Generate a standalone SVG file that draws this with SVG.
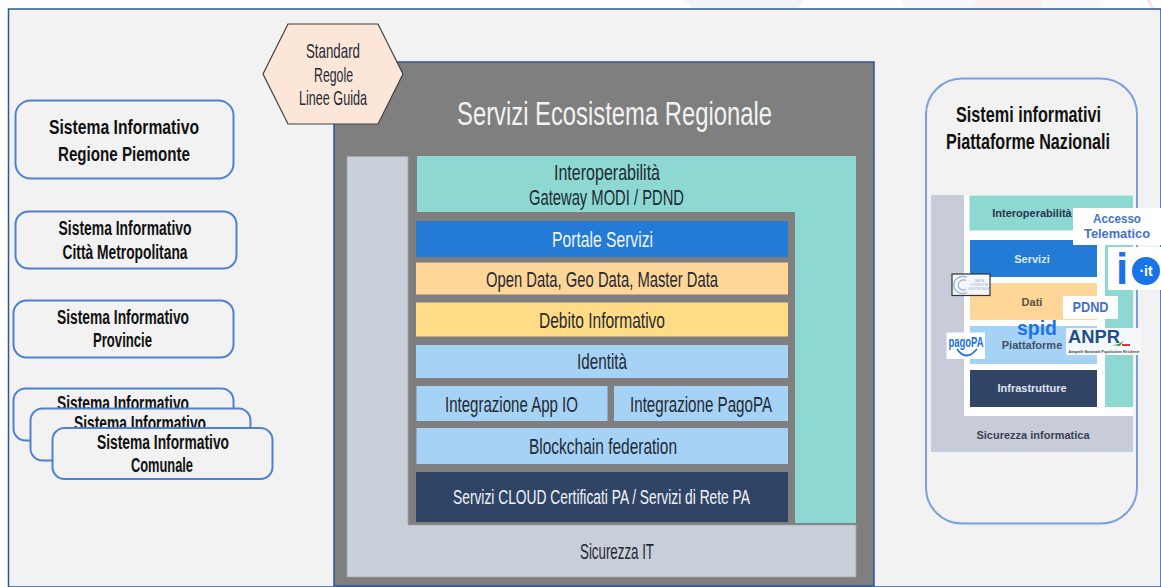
<svg xmlns="http://www.w3.org/2000/svg" width="1161" height="587" viewBox="0 0 1161 587">
<style>
text{font-family:"Liberation Sans",Arial,sans-serif;text-anchor:middle}
.d{fill:#1f2a33;font-size:22px}
.h{fill:#1f2a33;font-size:21px}
.b{fill:#111;font-size:20px;font-weight:bold}
.w{fill:#f2f4f8;font-size:22px}
.box{fill:#f2f2f2;stroke:#4f81d0;stroke-width:2}
.s{fill:#2a3550;font-size:11px;font-weight:bold}
.n{fill:#4472c4;font-weight:bold;font-size:13px}
</style>
<rect width="1161" height="587" fill="#fff"/>
<path d="M683 0L692 8H798L805 0Z" fill="#eef4f8"/>
<path d="M900 0L905 8H1100L1107 0Z" fill="#f8f8f8"/>
<path d="M977 0L970 8H1040L1043 0Z" fill="#fcefef"/>
<path d="M1147 0L1151 8H1154L1150 0Z" fill="#f8e4e4"/>
<path d="M1161 9H8.5V587H1161Z" fill="#f2f2f2" stroke="#2f5597" stroke-width="1.5"/>
<g id="left-systems">
<g id="si-regione"><rect class="box" x="15.5" y="100.5" width="218" height="78" rx="15"/>
<text class="b" x="124" y="134" font-size="21" style="font-size:21px" textLength="150" lengthAdjust="spacingAndGlyphs">Sistema Informativo</text>
<text class="b" x="124" y="161" style="font-size:21px" textLength="132" lengthAdjust="spacingAndGlyphs">Regione Piemonte</text></g>
<g id="si-citta"><rect class="box" x="15.5" y="211.5" width="221" height="57" rx="13"/>
<text class="b" x="125" y="235" textLength="133" lengthAdjust="spacingAndGlyphs">Sistema Informativo</text>
<text class="b" x="125" y="259" textLength="125" lengthAdjust="spacingAndGlyphs">Città Metropolitana</text></g>
<g id="si-province"><rect class="box" x="13.5" y="300.5" width="220" height="57" rx="13"/>
<text class="b" x="123" y="324" textLength="132" lengthAdjust="spacingAndGlyphs">Sistema Informativo</text>
<text class="b" x="122.500" y="347" textLength="59" lengthAdjust="spacingAndGlyphs">Provincie</text></g>
<g id="si-comunale-3"><rect class="box" x="13.5" y="388.5" width="220" height="52" rx="12"/>
<text class="b" x="123" y="410" textLength="132" lengthAdjust="spacingAndGlyphs">Sistema Informativo</text></g>
<g id="si-comunale-2"><rect class="box" x="30.5" y="408.5" width="220" height="52" rx="12"/>
<text class="b" x="140" y="430" textLength="132" lengthAdjust="spacingAndGlyphs">Sistema Informativo</text></g>
<g id="si-comunale-1"><rect class="box" x="52.5" y="428" width="220" height="51" rx="12"/>
<text class="b" x="163" y="449" textLength="132" lengthAdjust="spacingAndGlyphs">Sistema Informativo</text>
<text class="b" x="162" y="472" textLength="62" lengthAdjust="spacingAndGlyphs">Comunale</text></g>
</g>
<g id="ecosistema">
<rect x="334" y="62" width="540" height="524" fill="#7f7f7f" stroke="#2f5597" stroke-width="1.5"/>
<text x="614.500" y="125" fill="#f2f2f2" font-size="34" textLength="315" lengthAdjust="spacingAndGlyphs">Servizi Ecosistema Regionale</text>
<g id="sicurezza"><path d="M347 156.500H408V525H856V577H347Z" fill="#c8cfd9" stroke="#a5a5a5" stroke-width=".8"/>
<text class="d" x="617" y="559" textLength="74" lengthAdjust="spacingAndGlyphs">Sicurezza IT</text></g>
<g id="interoperabilita"><path d="M417 156H856V523H795V212H417Z" fill="#8dd8d2"/>
<text class="d" x="607" y="180" textLength="106" lengthAdjust="spacingAndGlyphs">Interoperabilità</text>
<text class="d" x="606.500" y="205" textLength="155" lengthAdjust="spacingAndGlyphs">Gateway MODI / PDND</text></g>
<g id="portale"><rect x="416" y="221" width="372" height="36" fill="#237bd6"/>
<text class="w" x="602.500" y="247" textLength="101" lengthAdjust="spacingAndGlyphs">Portale Servizi</text></g>
<g id="open-data"><rect x="416" y="262.500" width="372" height="32" fill="#fdd698"/>
<text class="d" x="602" y="287" textLength="232" lengthAdjust="spacingAndGlyphs">Open Data, Geo Data, Master Data</text></g>
<g id="debito"><rect x="416" y="302.500" width="372" height="34" fill="#ffdc85"/>
<text class="d" x="602" y="328" textLength="126" lengthAdjust="spacingAndGlyphs">Debito Informativo</text></g>
<g id="identita"><rect x="416" y="345" width="372" height="33" fill="#a6d2f6"/>
<text class="d" x="602" y="369" textLength="50" lengthAdjust="spacingAndGlyphs">Identità</text></g>
<g id="app-io"><rect x="416.500" y="386" width="191" height="35" fill="#a6d2f6"/>
<text class="d" x="511.500" y="412" textLength="133" lengthAdjust="spacingAndGlyphs">Integrazione App IO</text></g>
<g id="pagopa-int"><rect x="614" y="386" width="174" height="35" fill="#a6d2f6"/>
<text class="d" x="701" y="412" textLength="142" lengthAdjust="spacingAndGlyphs">Integrazione PagoPA</text></g>
<g id="blockchain"><rect x="416.500" y="428" width="371.500" height="36" fill="#a6d2f6"/>
<text class="d" x="603" y="454" textLength="148" lengthAdjust="spacingAndGlyphs">Blockchain federation</text></g>
<g id="cloud"><rect x="416" y="472" width="372" height="50" fill="#304466"/>
<text class="w" x="601.500" y="504" style="font-size:20px" textLength="297" lengthAdjust="spacingAndGlyphs">Servizi CLOUD Certificati PA / Servizi di Rete PA</text></g>
</g>
<g id="standard"><path d="M263 74L288 24H378L403 74L378 124H288Z" fill="#fbe6d8" stroke="#404040" stroke-width="1.200"/>
<text class="h" x="333" y="58" textLength="54" lengthAdjust="spacingAndGlyphs">Standard</text>
<text class="h" x="333.500" y="82" textLength="39" lengthAdjust="spacingAndGlyphs">Regole</text>
<text class="h" x="333" y="105" textLength="68" lengthAdjust="spacingAndGlyphs">Linee Guida</text></g>
<g id="nazionali">
<rect x="926" y="78.500" width="211" height="445" rx="36" fill="#f2f2f2" stroke="#7c9fdd" stroke-width="2"/>
<text class="b" x="1028.500" y="122" style="font-size:22px" textLength="145" lengthAdjust="spacingAndGlyphs">Sistemi informativi</text>
<text class="b" x="1028" y="149" style="font-size:22px" textLength="164" lengthAdjust="spacingAndGlyphs">Piattaforme Nazionali</text>
<rect x="931" y="195" width="202" height="257" fill="#c7ccd8"/>
<rect x="964" y="195" width="169" height="221" fill="#fff"/>
<rect x="969.500" y="195.500" width="163.500" height="35" fill="#8dd8d2"/>
<rect x="1105" y="230" width="28" height="177" fill="#8dd8d2"/>
<text class="s" x="1032" y="217">Interoperabilità</text>
<rect x="970" y="240" width="127" height="37" fill="#237bd6"/><text class="s" x="1032" y="263" style="fill:#dfeaf7">Servizi</text>
<rect x="970" y="283" width="127" height="37" fill="#fdd698"/><text class="s" x="1032" y="306" style="fill:#5a5240">Dati</text>
<rect x="970" y="326" width="127" height="38" fill="#a6d2f6"/><text class="s" x="1032" y="349" style="fill:#3f5068">Piattaforme</text>
<rect x="970" y="370" width="127" height="37" fill="#304466"/><text class="s" x="1032" y="392" style="fill:#e0e5ec">Infrastrutture</text>
<text class="s" x="1033" y="439" style="fill:#3a4254">Sicurezza informatica</text>
</g>
<g id="accesso"><rect x="1073" y="208" width="88" height="37" fill="#fff"/>
<text class="n" x="1117" y="223" textLength="48" lengthAdjust="spacingAndGlyphs">Accesso</text><text class="n" x="1117" y="238" textLength="66" lengthAdjust="spacingAndGlyphs">Telematico</text></g>
<g id="io"><rect x="1108" y="247" width="53" height="43" fill="#fff"/>
<text x="1122" y="284" font-size="44" font-weight="bold" fill="#1a73e8">i</text>
<circle cx="1146" cy="271" r="14" fill="#1a73e8"/>
<text x="1146" y="276" font-size="14" font-weight="bold" fill="#fff">·it</text></g>
<g id="pdnd"><rect x="1063" y="296" width="55" height="23" fill="#fff"/>
<text class="n" x="1090.500" y="312" style="font-size:14px" textLength="36" lengthAdjust="spacingAndGlyphs">PDND</text></g>
<g id="spid"><text x="1037" y="335" font-size="20" font-weight="bold" fill="#1a73e8" textLength="40" lengthAdjust="spacingAndGlyphs">spid</text></g>
<g id="anpr"><rect x="1066" y="328" width="75" height="27" fill="#f5f8fb"/>
<text x="1094" y="343" font-size="18" font-weight="bold" fill="#1f4e8c" textLength="52" lengthAdjust="spacingAndGlyphs">ANPR</text>
<path d="M1112 345Q1120 345 1124 340L1120 346Z" fill="#2e9e4f"/><rect x="1122" y="344" width="8" height="2" fill="#d9362b"/>
<text x="1104" y="353" font-size="3.500" font-weight="bold" fill="#444" textLength="71" lengthAdjust="spacingAndGlyphs">Anagrafe Nazionale Popolazione Residente</text></g>
<g id="pagopa"><rect x="946.500" y="332.500" width="38.500" height="26.500" fill="#fff"/>
<text x="966" y="347" font-size="14" font-weight="bold" fill="#1a73e8" textLength="35" lengthAdjust="spacingAndGlyphs">pagoPA</text>
<path d="M957 349Q966 362 977 349" fill="none" stroke="#1a73e8" stroke-width="1.800"/></g>
<g id="cie"><rect x="952" y="274" width="38" height="21.500" fill="#f4f6fa" stroke="#333" stroke-width="1.200"/>
<path d="M967 277.500A9 8.500 0 1 0 967 292.500M966 280.500A5.500 5 0 1 0 966 289.500" fill="none" stroke="#8db0dc" stroke-width="1.200"/>
<g font-size="3" fill="#8db0dc"><text x="979" y="282">CARTA</text><text x="979" y="286">DI IDENTITÀ</text><text x="979" y="290">ELETTRONICA</text></g></g>
</svg>
